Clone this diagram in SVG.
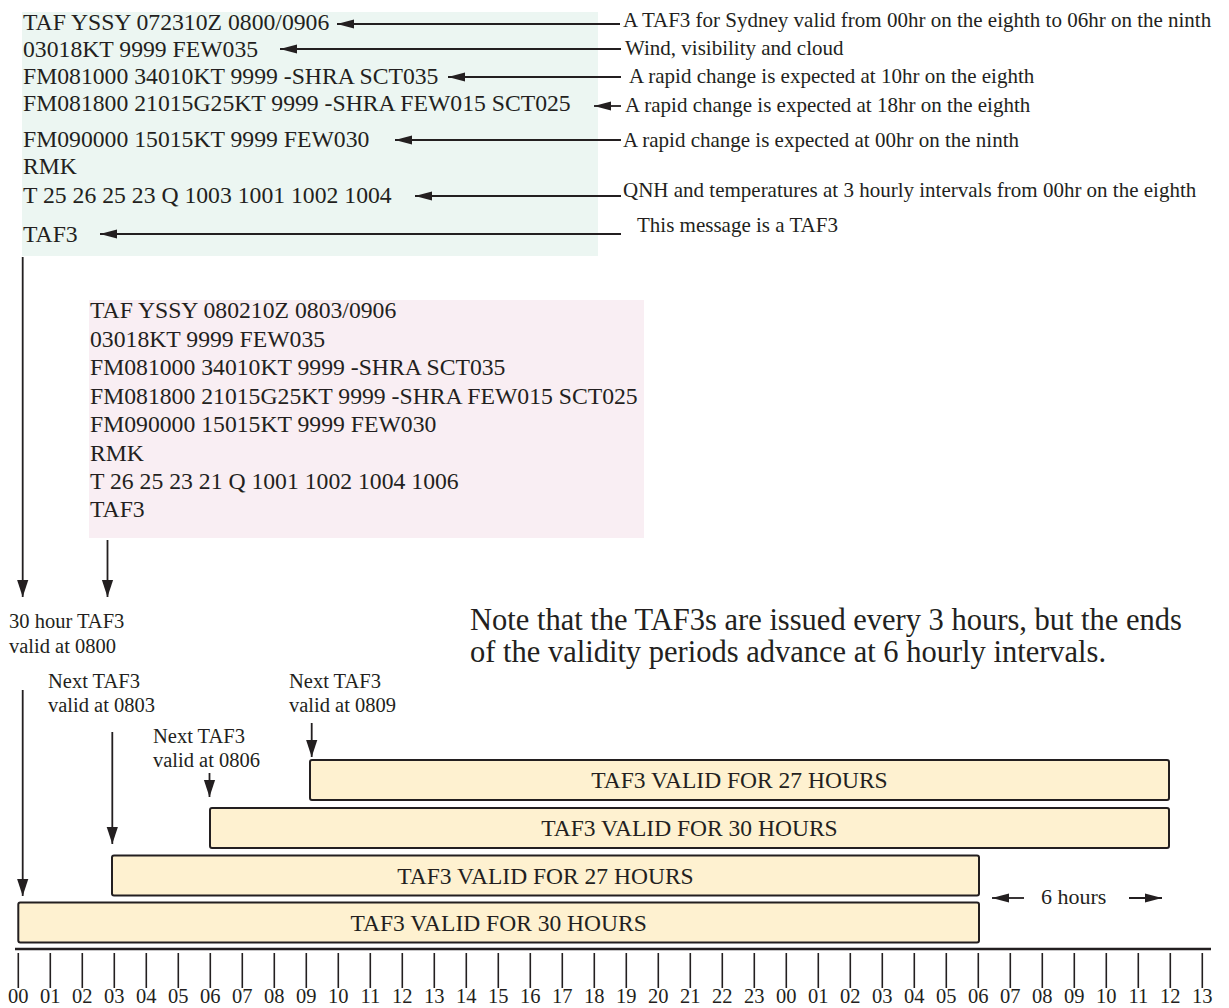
<svg xmlns="http://www.w3.org/2000/svg" width="1229" height="1008" viewBox="0 0 1229 1008">
<style>
text{font-family:"Liberation Serif","Times New Roman",serif;fill:#231f20}
.code{font-size:23.7px}
.ann{font-size:21px}
.lbl{font-size:20.5px}
.note{font-size:30.5px}
.bar rect{fill:#fef1d0;stroke:#231f20;stroke-width:2}
.bar text{font-size:23.5px;text-anchor:middle}
.ax{font-size:20.5px;text-anchor:middle}
.cn{stroke:#231f20;stroke-width:1.8;fill:none}
</style>
<defs>
<marker id="ah" markerUnits="userSpaceOnUse" viewBox="-18 -6 20 12" markerWidth="20" markerHeight="12" refX="0" refY="0" orient="auto">
<path d="M0,0 L-17,-4.6 L-17,4.6 Z" fill="#231f20"/>
</marker>
<marker id="ahd" markerUnits="userSpaceOnUse" viewBox="-18 -7 20 14" markerWidth="20" markerHeight="14" refX="0" refY="0" orient="auto">
<path d="M0,0 L-17,-5.6 L-17,5.6 Z" fill="#231f20"/>
</marker>
</defs>

<g id="taf-current">
<rect x="22" y="12" width="576" height="244" fill="#ecf6f2"/>
<text class="code" x="23" y="30">TAF YSSY 072310Z 0800/0906</text>
<text class="code" x="23" y="57">03018KT 9999 FEW035</text>
<text class="code" x="23" y="84">FM081000 34010KT 9999 -SHRA SCT035</text>
<text class="code" x="23" y="111">FM081800 21015G25KT 9999 -SHRA FEW015 SCT025</text>
<text class="code" x="23" y="147">FM090000 15015KT 9999 FEW030</text>
<text class="code" x="23" y="174">RMK</text>
<text class="code" x="23" y="203">T 25 26 25 23 Q 1003 1001 1002 1004</text>
<text class="code" x="23" y="242">TAF3</text>
</g>

<g id="annotations">
<text class="ann" x="623" y="27">A TAF3 for Sydney valid from 00hr on the eighth to 06hr on the ninth</text>
<text class="ann" x="625" y="55">Wind, visibility and cloud</text>
<text class="ann" x="629" y="83">A rapid change is expected at 10hr on the eighth</text>
<text class="ann" x="625" y="112">A rapid change is expected at 18hr on the eighth</text>
<text class="ann" x="623" y="147">A rapid change is expected at 00hr on the ninth</text>
<text class="ann" x="623" y="197">QNH and temperatures at 3 hourly intervals from 00hr on the eighth</text>
<text class="ann" x="637" y="232">This message is a TAF3</text>
</g>

<g id="taf-next">
<rect x="89" y="300" width="555" height="238" fill="#f9eef3"/>
<text class="code" x="90" y="318">TAF YSSY 080210Z 0803/0906</text>
<text class="code" x="90" y="347">03018KT 9999 FEW035</text>
<text class="code" x="90" y="375">FM081000 34010KT 9999 -SHRA SCT035</text>
<text class="code" x="90" y="404">FM081800 21015G25KT 9999 -SHRA FEW015 SCT025</text>
<text class="code" x="90" y="432">FM090000 15015KT 9999 FEW030</text>
<text class="code" x="90" y="461">RMK</text>
<text class="code" x="90" y="489">T 26 25 23 21 Q 1001 1002 1004 1006</text>
<text class="code" x="90" y="517">TAF3</text>
</g>

<g id="labels">
<text class="lbl" x="9" y="628">30 hour TAF3</text>
<text class="lbl" x="9" y="653">valid at 0800</text>
<text class="lbl" x="48" y="688">Next TAF3</text>
<text class="lbl" x="48" y="712">valid at 0803</text>
<text class="lbl" x="153" y="743">Next TAF3</text>
<text class="lbl" x="153" y="767">valid at 0806</text>
<text class="lbl" x="289" y="688">Next TAF3</text>
<text class="lbl" x="289" y="712">valid at 0809</text>
</g>

<g id="note">
<text class="note" x="470" y="630">Note that the TAF3s are issued every 3 hours, but the ends</text>
<text class="note" x="470" y="662">of the validity periods advance at 6 hourly intervals.</text>
</g>

<g id="bar-0809" class="bar">
<rect x="310" y="760" width="859" height="40" rx="2"/>
<text x="739.5" y="788">TAF3 VALID FOR 27 HOURS</text>
</g>
<g id="bar-0806" class="bar">
<rect x="210" y="808" width="959" height="40" rx="2"/>
<text x="689.5" y="836">TAF3 VALID FOR 30 HOURS</text>
</g>
<g id="bar-0803" class="bar">
<rect x="112" y="855.5" width="867" height="40" rx="2"/>
<text x="545.5" y="883.5">TAF3 VALID FOR 27 HOURS</text>
</g>
<g id="bar-0800" class="bar">
<rect x="18.3" y="902.5" width="960.7" height="40" rx="2"/>
<text x="498.6" y="930.5">TAF3 VALID FOR 30 HOURS</text>
</g>

<g id="six-hours">
<text x="1041" y="904" style="font-size:22px">6 hours</text>
</g>

<g id="connectors">
<line class="cn" x1="620" y1="24" x2="337" y2="24" marker-end="url(#ah)"/>
<line class="cn" x1="621" y1="49" x2="280" y2="49" marker-end="url(#ah)"/>
<line class="cn" x1="621" y1="77" x2="448" y2="77" marker-end="url(#ah)"/>
<line class="cn" x1="621" y1="106" x2="594" y2="106" marker-end="url(#ah)"/>
<line class="cn" x1="621" y1="140" x2="395" y2="140" marker-end="url(#ah)"/>
<line class="cn" x1="621" y1="196" x2="415" y2="196" marker-end="url(#ah)"/>
<line class="cn" x1="621" y1="234" x2="100" y2="234" marker-end="url(#ah)"/>
<line class="cn" x1="22.7" y1="257" x2="22.7" y2="597" marker-end="url(#ahd)"/>
<line class="cn" x1="107.5" y1="540" x2="107.5" y2="597" marker-end="url(#ahd)"/>
<line class="cn" x1="22.7" y1="690" x2="22.7" y2="896" marker-end="url(#ahd)"/>
<line class="cn" x1="112.3" y1="732" x2="112.3" y2="844" marker-end="url(#ahd)"/>
<line class="cn" x1="209.5" y1="773" x2="209.5" y2="797" marker-end="url(#ahd)"/>
<line class="cn" x1="311.7" y1="723" x2="311.7" y2="757" marker-end="url(#ahd)"/>
<line class="cn" x1="1024" y1="898" x2="992" y2="898" marker-end="url(#ah)"/>
<line class="cn" x1="1129" y1="898" x2="1162" y2="898" marker-end="url(#ah)"/>
</g>

<g id="axis">
<line x1="15" y1="949" x2="1211" y2="949" stroke="#231f20" stroke-width="2.5"/>
<path stroke="#231f20" stroke-width="1.6" fill="none" d="M18.3 953V988M50.3 953V988M82.3 953V988M114.3 953V988M146.3 953V988M178.3 953V988M210.3 953V988M242.3 953V988M274.3 953V988M306.3 953V988M338.3 953V988M370.3 953V988M402.3 953V988M434.3 953V988M466.3 953V988M498.3 953V988M530.3 953V988M562.3 953V988M594.3 953V988M626.3 953V988M658.3 953V988M690.3 953V988M722.3 953V988M754.3 953V988M786.3 953V988M818.3 953V988M850.3 953V988M882.3 953V988M914.3 953V988M946.3 953V988M978.3 953V988M1010.3 953V988M1042.3 953V988M1074.3 953V988M1106.3 953V988M1138.3 953V988M1170.3 953V988M1202.3 953V988"/>
<text class="ax" x="18.3" y="1003">00</text>
<text class="ax" x="50.3" y="1003">01</text>
<text class="ax" x="82.3" y="1003">02</text>
<text class="ax" x="114.3" y="1003">03</text>
<text class="ax" x="146.3" y="1003">04</text>
<text class="ax" x="178.3" y="1003">05</text>
<text class="ax" x="210.3" y="1003">06</text>
<text class="ax" x="242.3" y="1003">07</text>
<text class="ax" x="274.3" y="1003">08</text>
<text class="ax" x="306.3" y="1003">09</text>
<text class="ax" x="338.3" y="1003">10</text>
<text class="ax" x="370.3" y="1003">11</text>
<text class="ax" x="402.3" y="1003">12</text>
<text class="ax" x="434.3" y="1003">13</text>
<text class="ax" x="466.3" y="1003">14</text>
<text class="ax" x="498.3" y="1003">15</text>
<text class="ax" x="530.3" y="1003">16</text>
<text class="ax" x="562.3" y="1003">17</text>
<text class="ax" x="594.3" y="1003">18</text>
<text class="ax" x="626.3" y="1003">19</text>
<text class="ax" x="658.3" y="1003">20</text>
<text class="ax" x="690.3" y="1003">21</text>
<text class="ax" x="722.3" y="1003">22</text>
<text class="ax" x="754.3" y="1003">23</text>
<text class="ax" x="786.3" y="1003">00</text>
<text class="ax" x="818.3" y="1003">01</text>
<text class="ax" x="850.3" y="1003">02</text>
<text class="ax" x="882.3" y="1003">03</text>
<text class="ax" x="914.3" y="1003">04</text>
<text class="ax" x="946.3" y="1003">05</text>
<text class="ax" x="978.3" y="1003">06</text>
<text class="ax" x="1010.3" y="1003">07</text>
<text class="ax" x="1042.3" y="1003">08</text>
<text class="ax" x="1074.3" y="1003">09</text>
<text class="ax" x="1106.3" y="1003">10</text>
<text class="ax" x="1138.3" y="1003">11</text>
<text class="ax" x="1170.3" y="1003">12</text>
<text class="ax" x="1202.3" y="1003">13</text>
</g>
</svg>
